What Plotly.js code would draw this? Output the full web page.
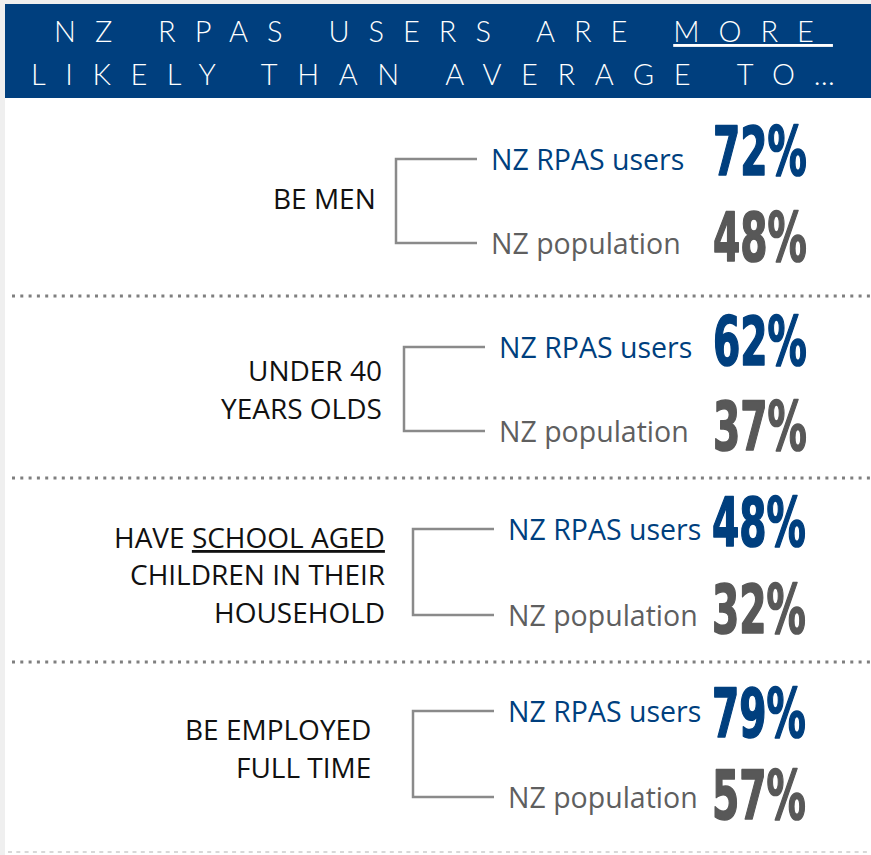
<!DOCTYPE html>
<html>
<head>
<meta charset="utf-8">
<script src="https://cdn.plot.ly/plotly-3.0.1.min.js"></script>
<style>
  html, body { margin: 0; padding: 0; background: #ffffff; }
  #chart { width: 871px; height: 855px; }
</style>
</head>
<body>
<div id="chart"></div>
<script>
// ---------------- DATA ----------------
const titleLines = ["NZ RPAS USERS ARE |MORE", "LIKELY THAN AVERAGE TO…"];
const categories = [
  ["BE MEN"],
  ["UNDER 40", "YEARS OLDS"],
  ["HAVE |SCHOOL AGED", "CHILDREN IN THEIR", "HOUSEHOLD"],
  ["BE EMPLOYED", "FULL TIME"]
];
const seriesNames = ["NZ RPAS users", "NZ population"];
const rpasUsers = [72, 62, 48, 79];
const nzPopulation = [48, 37, 32, 57];

// ---------------- LAYOUT / STYLE ----------------
const W = 871, H = 855;
const BLUE = "#003F7E";
const seriesTextColors = [BLUE, "#5F5F5F"];
const seriesNumColors = [BLUE, "#585858"];
const labelRightX = [378, 384, 387, 373];
const labelCenterY = [198, 389, 574, 748];
const labelLineGap = 37.5;
const bracketX = [396, 404, 413, 413];
const bracketTopY = [159, 347, 529, 711];
const bracketBotY = [243, 431, 615, 797];
const armLen = 81;
const textOffset = 93;
const numLeftX = [711, 711, 710, 710];
const numTopY = [152, 342, 523, 714];
const numBotY = [238, 427, 610, 796];
const separatorsY = [296, 478, 662];
const NUM_SQUEEZE = 0.65;

const shapes = [];
const annotations = [];

// background strips and header
shapes.push({type: "rect", xref: "x", yref: "y", x0: 0, x1: 5, y0: 0, y1: H, fillcolor: "#EFEFEF", line: {width: 0}, layer: "below"});
shapes.push({type: "rect", xref: "x", yref: "y", x0: 0, x1: W, y0: 0, y1: 4, fillcolor: "#EFEFEF", line: {width: 0}, layer: "below"});
shapes.push({type: "rect", xref: "x", yref: "y", x0: 5, x1: W, y0: 4, y1: 98, fillcolor: BLUE, line: {width: 0}, layer: "below"});

function fmtTitle(s, ls) {
  const st = "letter-spacing:" + ls + "px";
  if (s.indexOf("|") >= 0) {
    const parts = s.split("|");
    return '<span style="' + st + '">' + parts[0] + '</span><span style="' + st + ';text-decoration:underline">' + parts[1] + '</span>';
  }
  return '<span style="' + st + '">' + s + '</span>';
}
const titleY = [30, 73];
const titleSpacing = [19, 19.6];
const titleX = [443, 442];
titleLines.forEach((t, i) => {
  annotations.push({
    xref: "x", yref: "y", x: titleX[i], y: titleY[i], xanchor: "center", yanchor: "middle",
    text: fmtTitle(t, titleSpacing[i]), showarrow: false,
    font: {family: "Lato, 'Open Sans', sans-serif", size: 29, color: "#FFFFFF", weight: 300}
  });
});

// separators
separatorsY.forEach(y => {
  shapes.push({type: "line", xref: "x", yref: "y", x0: 12, x1: W, y0: y, y1: y,
    line: {color: "#7F7F7F", width: 3, dash: "3px,5.3px"}});
});
shapes.push({type: "line", xref: "x", yref: "y", x0: 8, x1: W, y0: 852, y1: 852,
  line: {color: "#CCCCCC", width: 1.5, dash: "4px,4.3px"}});

function fmtLabel(s) {
  if (s.indexOf("|") >= 0) {
    const parts = s.split("|");
    return parts[0] + '<span style="text-decoration:underline">' + parts[1] + '</span>';
  }
  return s;
}

categories.forEach((lines, i) => {
  const n = lines.length;
  lines.forEach((ln, j) => {
    annotations.push({
      xref: "x", yref: "y", x: labelRightX[i],
      y: labelCenterY[i] + (j - (n - 1) / 2) * labelLineGap,
      xanchor: "right", yanchor: "middle", showarrow: false,
      text: fmtLabel(ln),
      font: {family: "'Open Sans', Lato, sans-serif", size: 28, color: "#111111"}
    });
  });
  // bracket
  const bx = bracketX[i], t = bracketTopY[i], b = bracketBotY[i];
  shapes.push({type: "path", xref: "x", yref: "y",
    path: `M ${bx + armLen},${t} L ${bx},${t} L ${bx},${b} L ${bx + armLen},${b}`,
    line: {color: "#8A8A8A", width: 2.5}});
  const vals = [rpasUsers[i], nzPopulation[i]];
  const rowY = [t, b];
  const numY = [numTopY[i], numBotY[i]];
  seriesNames.forEach((name, k) => {
    annotations.push({
      xref: "x", yref: "y", x: bx + textOffset, y: rowY[k],
      xanchor: "left", yanchor: "middle", showarrow: false,
      text: name,
      font: {family: "'Open Sans', Lato, sans-serif", size: 28.5, color: seriesTextColors[k]}
    });
    annotations.push({
      xref: "x", yref: "y", x: numLeftX[i], y: numY[k],
      xanchor: "left", yanchor: "middle", showarrow: false,
      text: vals[k] + "%",
      font: {family: "'Liberation Sans Narrow', 'DejaVu Sans Condensed', Roboto, sans-serif", size: 67, color: seriesNumColors[k], weight: 700}
    });
  });
});

const layout = {
  width: W, height: H,
  margin: {l: 0, r: 0, t: 0, b: 0, pad: 0},
  paper_bgcolor: "#FFFFFF", plot_bgcolor: "#FFFFFF",
  xaxis: {range: [0, W], visible: false, fixedrange: true},
  yaxis: {range: [H, 0], visible: false, fixedrange: true},
  showlegend: false,
  shapes: shapes,
  annotations: annotations
};

Plotly.newPlot("chart", [], layout, {staticPlot: true, displayModeBar: false}).then(() => {
  document.querySelectorAll(".annotation-text").forEach(t => {
    if (/^\d+%$/.test(t.textContent)) {
      const bb = t.getBBox();
      const w = t.getComputedTextLength();
      t.setAttribute("text-anchor", "start");
      t.setAttribute("x", bb.x);
      t.setAttribute("textLength", (w * NUM_SQUEEZE).toFixed(1));
      t.setAttribute("lengthAdjust", "spacingAndGlyphs");
      const fill = t.style.fill || t.getAttribute("fill");
      t.style.stroke = fill;
      t.style.strokeWidth = "1.6px";
      t.style.strokeLinejoin = "round";
    }
  });
});
</script>
</body>
</html>
